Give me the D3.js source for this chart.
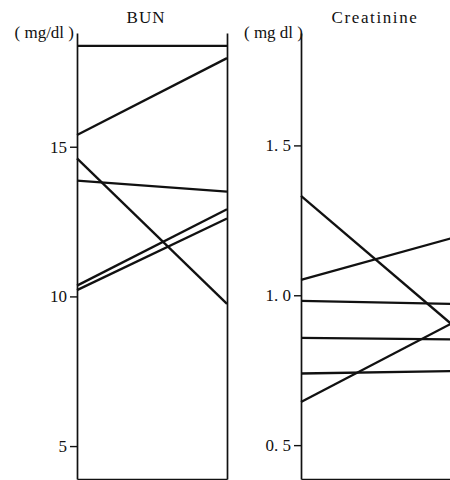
<!DOCTYPE html>
<html>
<head>
<meta charset="utf-8">
<script src="https://cdn.jsdelivr.net/npm/d3@7"></script>
<style>
  html, body { margin: 0; padding: 0; background: #fff; }
  svg { display: block; }
  text { font-family: "Liberation Serif", "DejaVu Serif", serif; fill: #111; }
</style>
</head>
<body>
<div id="chart"></div>
<script>
// ------------------------------------------------------------
// Data: paired values, before -> after
// ------------------------------------------------------------
const timepoints = ["before", "after"];

const bunBefore = [18.37, 15.39, 14.61, 13.87, 10.36, 10.21];
const bunAfter  = [18.37, 17.96, 9.75, 13.50, 12.91, 12.60];
const bunTicks = [5, 10, 15];
const bunTickLabels = ["5", "10", "15"];

const creBefore = [1.332, 1.051, 0.981, 0.858, 0.644, 0.739];
const creAfter  = [0.905, 1.19, 0.971, 0.853, 0.905, 0.747];
const creTicks = [0.5, 1.0, 1.5];
const creTickLabels = ["0. 5", "1. 0", "1. 5"];

// ------------------------------------------------------------
// Layout
// ------------------------------------------------------------
const width = 450, height = 480;
const axisTop = 33, axisBottom = 479;

const svg = d3.select("#chart").append("svg")
  .attr("width", width)
  .attr("height", height);

function drawPanel({ x0, x1, domain, ticks, tickLabels, before, after, title, titleX, unit, unitX }) {
  const x = d3.scalePoint().domain(timepoints).range([x0, x1]);
  const y = d3.scaleLinear().domain(domain).range([axisBottom, axisTop]);

  const g = svg.append("g");

  // left axis with ticks
  const left = g.append("g")
    .attr("transform", `translate(${x0},0)`)
    .call(d3.axisLeft(y)
      .tickValues(ticks)
      .tickFormat((d, i) => tickLabels[i])
      .tickSize(7)
      .tickSizeOuter(0)
      .tickPadding(3));
  left.select(".domain").attr("stroke", "#111").attr("stroke-width", 1.7);
  left.selectAll(".tick line").attr("stroke", "#111").attr("stroke-width", 1.4);
  left.selectAll(".tick text")
    .attr("font-size", 17)
    .attr("fill", "#111");

  // right axis (plain line)
  const right = g.append("g")
    .attr("transform", `translate(${x1},0)`)
    .call(d3.axisRight(y).tickValues([]).tickSizeOuter(0));
  right.select(".domain").attr("stroke", "#111").attr("stroke-width", 1.7);

  // bottom border
  const base = g.append("g")
    .attr("transform", `translate(0,${axisBottom})`)
    .call(d3.axisBottom(x).tickValues([]).tickSizeOuter(0));
  base.select(".domain").attr("stroke", "#111").attr("stroke-width", 1.7);

  // paired lines
  const pairs = before.map((b, i) => [
    { t: timepoints[0], v: b },
    { t: timepoints[1], v: after[i] }
  ]);
  const line = d3.line().x(d => x(d.t)).y(d => y(d.v));
  g.selectAll("path.pair")
    .data(pairs)
    .join("path")
    .attr("class", "pair")
    .attr("d", line)
    .attr("fill", "none")
    .attr("stroke", "#111")
    .attr("stroke-width", 2.3);

  // title and unit
  g.append("text")
    .attr("x", titleX)
    .attr("y", 23)
    .attr("text-anchor", "middle")
    .attr("font-size", 17)
    .attr("letter-spacing", title.length > 5 ? 1.6 : 1)
    .text(title);

  g.append("text")
    .attr("x", unitX)
    .attr("y", 38)
    .attr("text-anchor", "end")
    .attr("font-size", 17)
    .text(unit);
}

drawPanel({
  x0: 77, x1: 227,
  domain: [3.9, 18.8],
  ticks: bunTicks, tickLabels: bunTickLabels,
  before: bunBefore, after: bunAfter,
  title: "BUN", titleX: 146,
  unit: "( mg/dl )", unitX: 74
});

drawPanel({
  x0: 301, x1: 451,
  domain: [0.387, 1.875],
  ticks: creTicks, tickLabels: creTickLabels,
  before: creBefore, after: creAfter,
  title: "Creatinine", titleX: 375,
  unit: "( mg  dl )", unitX: 303
});
</script>
</body>
</html>
